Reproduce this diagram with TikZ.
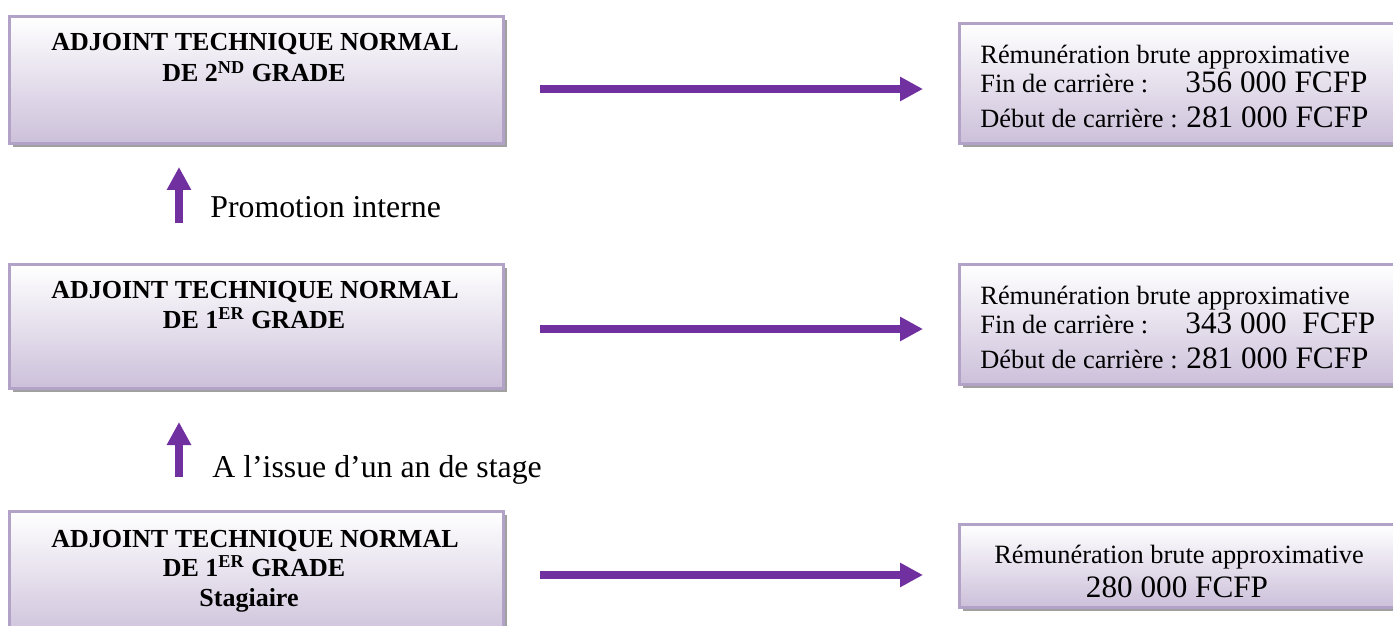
\documentclass[tikz,border=0pt]{standalone}
\usepackage{fontspec}
\setmainfont{Liberation Serif}
\usetikzlibrary{arrows.meta,shadows}
\definecolor{lav}{HTML}{CCC0DA}
\definecolor{lavborder}{HTML}{B3A2C7}
\definecolor{arrowpurple}{HTML}{7030A0}
\definecolor{shadowgray}{HTML}{A0A0A0}
\begin{document}
\begin{tikzpicture}[x=0.5pt,y=-0.5pt,
  box/.style={draw=lavborder, line width=1.3pt, top color=white, bottom color=lav,
    rectangle, anchor=north west, inner sep=0pt,
    drop shadow={shadow xshift=2pt, shadow yshift=-2pt, opacity=1, fill=shadowgray}},
  flow/.style={draw=arrowpurple, line width=4pt, -{Triangle[length=11.5pt,width=11.5pt]}},
  boldtxt/.style={font=\fontsize{13}{15}\selectfont\bfseries, inner sep=0pt, anchor=base},
  smalltxt/.style={font=\fontsize{13.2}{16}\selectfont, inner sep=0pt, anchor=base west},
  bigtxt/.style={font=\fontsize{15.6}{18}\selectfont, inner sep=0pt, anchor=base west},
  labeltxt/.style={font=\fontsize{15.9}{19}\selectfont, inner sep=0pt, anchor=base west}]
\clip (0,0) rectangle (1393,626);

% left boxes
\node[box, minimum width=247pt, minimum height=63.5pt] (L1) at (8,15) {};
\node[box, minimum width=247pt, minimum height=62pt] (L2) at (8,263) {};
\node[box, minimum width=247pt, minimum height=65pt] (L3) at (8,510) {};
% right boxes
\node[box, minimum width=221pt, minimum height=60pt] (R1) at (958,22) {};
\node[box, minimum width=221pt, minimum height=60pt] (R2) at (958,263) {};
\node[box, minimum width=221pt, minimum height=41.5pt] (R3) at (958,523) {};

% left texts
\node[boldtxt] (l1a) at (255,51) {ADJOINT TECHNIQUE NORMAL};
\node[boldtxt] (l1b) at (254,82) {DE 2\textsuperscript{ND} GRADE};
\node[boldtxt] (l2a) at (255,298) {ADJOINT TECHNIQUE NORMAL};
\node[boldtxt] (l2b) at (254,328) {DE 1\textsuperscript{ER} GRADE};
\node[boldtxt] (l3a) at (255,547) {ADJOINT TECHNIQUE NORMAL};
\node[boldtxt] (l3b) at (254,576) {DE 1\textsuperscript{ER} GRADE};
\node[boldtxt] (l3c) at (249,606) {Stagiaire};

% right texts
\node[smalltxt] (r1a) at (980,64) {Rémunération brute approximative};
\node[smalltxt] (r1b) at (980,93) {Fin de carrière :};
\node[bigtxt] (r1c) at (1185,93) {356 000 FCFP};
\node[smalltxt] (r1d) at (980,128) {Début de carrière :};
\node[bigtxt] (r1e) at (1186,128) {281 000 FCFP};

\node[smalltxt] (r2a) at (980,304) {Rémunération brute approximative};
\node[smalltxt] (r2b) at (980,333) {Fin de carrière :};
\node[bigtxt] (r2c) at (1185,333) {343 000\ \ FCFP};
\node[smalltxt] (r2d) at (980,368) {Début de carrière :};
\node[bigtxt] (r2e) at (1186,368) {281 000 FCFP};

\node[smalltxt, anchor=base] (r3a) at (1179,563) {Rémunération brute approximative};
\node[bigtxt, anchor=base] (r3b) at (1177,597) {280 000 FCFP};

% labels
\node[labeltxt] (p1) at (210,218) {Promotion interne};
\node[labeltxt] (p2) at (212,477) {A l’issue d’un an de stage};

% arrows
\coordinate (h1s) at (540,89);  \coordinate (h1e) at (923,89);
\coordinate (h2s) at (540,329); \coordinate (h2e) at (923,329);
\coordinate (h3s) at (540,575); \coordinate (h3e) at (923,575);
\coordinate (v1s) at (179,223); \coordinate (v1e) at (179,167);
\coordinate (v2s) at (179,477); \coordinate (v2e) at (179,422);
\draw[flow] (h1s) -- (h1e);
\draw[flow] (h2s) -- (h2e);
\draw[flow] (h3s) -- (h3e);
\draw[flow] (v1s) -- (v1e);
\draw[flow] (v2s) -- (v2e);
\end{tikzpicture}
\end{document}
